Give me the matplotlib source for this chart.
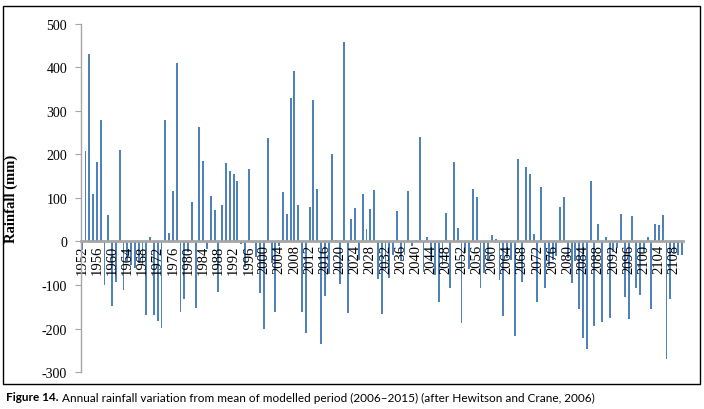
import matplotlib
matplotlib.use("Agg")
import matplotlib.pyplot as plt
from matplotlib.patches import Rectangle

years = list(range(1952, 2111))
rain = [
    -20, 207, 430, 108, 183, 280, -101, 61, -148, -92,
    211, -112, -45, -55, -60, -50, -55, -168, 10, -168,
    -183, -199, 280, 20, 115, 410, -161, -132, -25, 90,
    -152, 263, 186, -17, 105, 73, -115, 83, 180, 161,
    156, 138, -5, -59, 167, -3, -36, -118, -202, 237,
    -50, -162, -10, 113, 63, 330, 392, 84, -161, -210,
    80, 325, 121, -236, -125, -75, 201, 3, -98, 459,
    -164, 52, 77, -42, 109, 29, 74, 119, -86, -167,
    -65, -84, -30, 70, -46, -30, 116, -10, 3, 241,
    -69, 10, -42, -76, -140, -54, 66, -107, 182, 31,
    -187, -27, -63, 121, 102, -108, -73, -46, 15, 5,
    -88, -171, -38, -42, -217, 190, -93, 172, 155, 18,
    -138, 125, -106, -57, -42, -34, 80, 103, -38, -96,
    -46, -156, -222, -246, 138, -195, 40, -185, 10, -175,
    -25, -15, 63, -127, -179, 58, -106, -124, -25, 10,
    -156, 40, 37, 60, -271, -132, -25, -30, -30,
]
tick_years = list(range(1952, 2111, 4))
y_ticks = [-300, -200, -100, 0, 100, 200, 300, 400, 500]

serif = ["Liberation Serif", "DejaVu Serif"]
grey = "#a6a6a6"

fig = plt.figure(figsize=(7.04, 4.10), dpi=100)
ax = fig.add_axes([0.115, 0.0902, 0.855, 0.849])

ax.bar(years, rain, width=0.5, color="#4f81bd")
ax.set_xlim(1951.8, 2110.3)
ax.set_ylim(-300, 500)

for s in ["top", "right"]:
    ax.spines[s].set_visible(False)
ax.spines["bottom"].set_position(("data", 0))
ax.spines["bottom"].set_color(grey)
ax.spines["bottom"].set_linewidth(2)
ax.spines["left"].set_color(grey)
ax.spines["left"].set_linewidth(1)

ax.set_xticks(tick_years)
ax.set_xticklabels([str(y) for y in tick_years], rotation=90,
                   fontsize=10.5, family=serif)
ax.tick_params(axis="x", length=0, pad=2)
ax.set_yticks(y_ticks)
ax.set_yticklabels([str(v) for v in y_ticks], fontsize=10, family=serif)
ax.tick_params(axis="y", length=4, color=grey, pad=6)

ax.set_ylabel("Rainfall (mm)", fontsize=10.5, fontweight="bold", family=serif)
ax.yaxis.set_label_coords(-0.105, 0.5)

# frame round the chart
fig.add_artist(Rectangle((3 / 704, 1 - 385 / 410), 697 / 704, 378 / 410,
                         transform=fig.transFigure, fill=False,
                         edgecolor="black", linewidth=1))

# caption: bold lead-in then plain text, shrunk to fit the reference width
cap = ["Lato", "DejaVu Sans"]
cap_text = ("Annual rainfall variation from mean of modelled period (2006\u20132015) "
            "(after Hewitson and Crane, 2006)")
size = 8.5
rend = fig.canvas.get_renderer()
t1 = fig.text(6 / 704, 1 - 398 / 410, "Figure 14.", fontsize=size,
              fontweight="bold", family=cap, va="center")
t2 = fig.text(0, 1 - 398 / 410, cap_text, fontsize=size, family=cap, va="center")
for _ in range(3):
    b1 = t1.get_window_extent(rend)
    t2.set_x(b1.x1 / fig.bbox.width + 4 / 704)
    b2 = t2.get_window_extent(rend)
    width = b2.x1 - b1.x0
    size = size * 585 / width
    t1.set_fontsize(size)
    t2.set_fontsize(size)
b1 = t1.get_window_extent(rend)
t2.set_x(b1.x1 / fig.bbox.width + 4 / 704)

fig.savefig("out.png", dpi=100)
